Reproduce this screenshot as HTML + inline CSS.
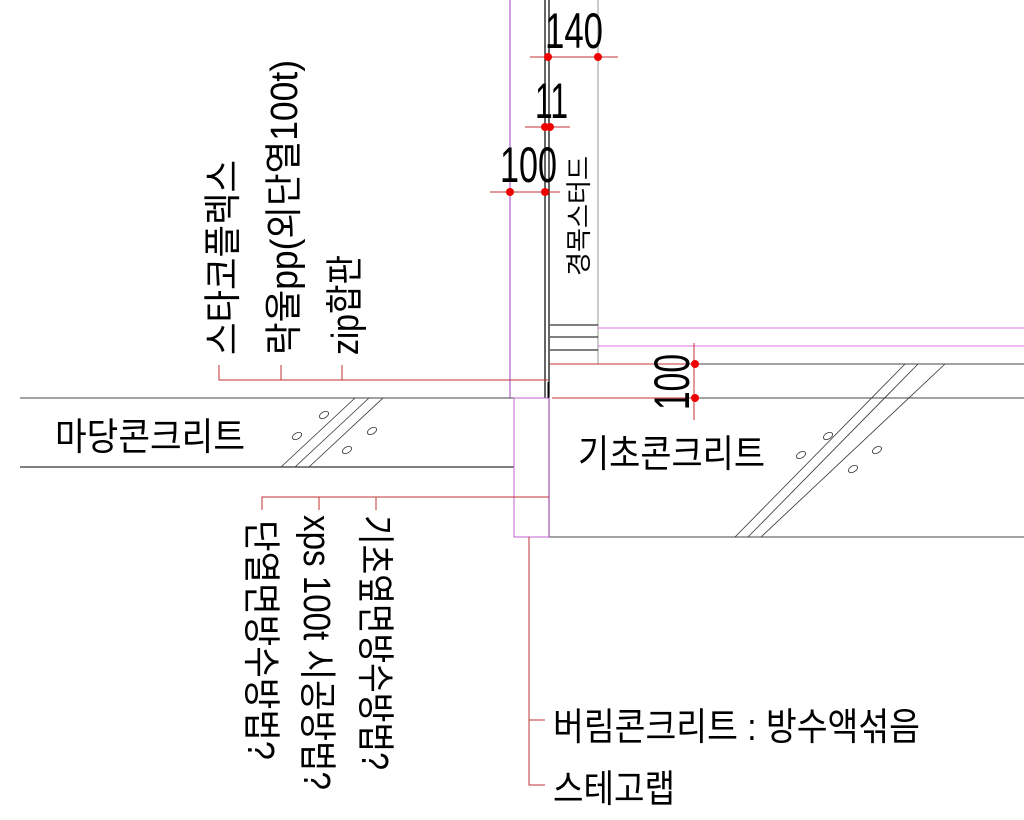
<!DOCTYPE html>
<html><head><meta charset="utf-8"><style>
html,body{margin:0;padding:0;background:#fff}
svg{display:block}
text{font-family:"Liberation Sans","Noto Sans CJK KR",sans-serif;fill:#000}
</style></head><body>
<svg width="1024" height="820" viewBox="0 0 1024 820" xmlns="http://www.w3.org/2000/svg">
<line x1="510" y1="0" x2="510" y2="398" stroke="#a040c0" stroke-width="1"/>
<line x1="545" y1="0" x2="545" y2="398" stroke="#000" stroke-width="1.2"/>
<line x1="549" y1="0" x2="549" y2="537" stroke="#000" stroke-width="1.2"/>
<line x1="598" y1="0" x2="598" y2="364" stroke="#999" stroke-width="1"/>
<line x1="550" y1="325" x2="598" y2="325" stroke="#000"/>
<line x1="550" y1="337" x2="598" y2="337" stroke="#000"/>
<line x1="550" y1="350" x2="598" y2="350" stroke="#000"/>
<line x1="598" y1="328" x2="1024" y2="328" stroke="#e070e0"/>
<line x1="598" y1="346" x2="1024" y2="346" stroke="#e070e0"/>
<line x1="550" y1="364" x2="1024" y2="364" stroke="#444"/>
<line x1="20" y1="398" x2="545" y2="398" stroke="#444"/>
<line x1="552" y1="398" x2="1024" y2="398" stroke="#444"/>
<line x1="20" y1="467" x2="514" y2="467" stroke="#000"/>
<line x1="549" y1="537" x2="1024" y2="537" stroke="#444"/>
<rect x="514" y="398" width="35" height="139" fill="none" stroke="#c060d0"/>
<line x1="548" y1="382" x2="548" y2="398" stroke="#000"/>
<g stroke="#333" stroke-width="0.8" fill="none">
<line x1="281" y1="467" x2="355" y2="398"/><line x1="295" y1="467" x2="369" y2="398"/><line x1="309" y1="467" x2="383" y2="398"/>
<line x1="735" y1="537" x2="905" y2="364"/><line x1="748" y1="537" x2="918" y2="364"/><line x1="761" y1="537" x2="945" y2="364"/>
<ellipse cx="324" cy="415" rx="5" ry="3" transform="rotate(-30 324 415)"/>
<ellipse cx="297" cy="436" rx="5" ry="3" transform="rotate(-30 297 436)"/>
<ellipse cx="372" cy="431" rx="5" ry="3" transform="rotate(-30 372 431)"/>
<ellipse cx="347" cy="450" rx="5" ry="3" transform="rotate(-30 347 450)"/>
<ellipse cx="828" cy="436" rx="5" ry="3" transform="rotate(-30 828 436)"/>
<ellipse cx="801" cy="455" rx="5" ry="3" transform="rotate(-30 801 455)"/>
<ellipse cx="877" cy="450" rx="5" ry="3" transform="rotate(-30 877 450)"/>
<ellipse cx="853" cy="469" rx="5" ry="3" transform="rotate(-30 853 469)"/>
</g>
<g stroke="#c03030" stroke-width="1" fill="none">
<polyline points="219,365 219,380 548,380"/>
<line x1="281" y1="365" x2="281" y2="380"/>
<line x1="342" y1="365" x2="342" y2="380"/>
<polyline points="262,510 262,497 549,497"/>
<line x1="319" y1="497" x2="319" y2="510"/>
<line x1="376" y1="497" x2="376" y2="510"/>
<polyline points="529,537 529,785 545,785"/>
<line x1="529" y1="720" x2="545" y2="720"/>
<line x1="530" y1="57" x2="618" y2="57"/>
<line x1="525" y1="127" x2="570" y2="127"/>
<line x1="490" y1="192" x2="560" y2="192"/>
<line x1="694" y1="343" x2="694" y2="420"/>
<line x1="550" y1="364" x2="700" y2="364"/>
<line x1="552" y1="398" x2="700" y2="398"/>
</g>
<g fill="#e00">
<circle cx="548" cy="57" r="4"/><circle cx="598" cy="57" r="4"/>
<circle cx="545" cy="127" r="4"/><circle cx="550" cy="127" r="4"/>
<circle cx="510" cy="192" r="4"/><circle cx="545" cy="192" r="4"/>
<circle cx="695" cy="364" r="4"/><circle cx="695" cy="398" r="4"/>
</g>
<g font-size="50">
<text x="545" y="48" textLength="58" lengthAdjust="spacingAndGlyphs">140</text>
<text x="535" y="118" textLength="33" lengthAdjust="spacingAndGlyphs">11</text>
<text x="500" y="182" textLength="57" lengthAdjust="spacingAndGlyphs">100</text>
<text transform="translate(689 410) rotate(-90)" textLength="56" lengthAdjust="spacingAndGlyphs">100</text>
</g>
<g font-size="38">
<text x="55" y="450" textLength="190" lengthAdjust="spacingAndGlyphs">마당콘크리트</text>
<text x="578" y="467" textLength="187" lengthAdjust="spacingAndGlyphs">기초콘크리트</text>
<text x="553" y="740" textLength="367" lengthAdjust="spacingAndGlyphs">버림콘크리트 : 방수액섞음</text>
<text x="553" y="802" textLength="122" lengthAdjust="spacingAndGlyphs">스테고랩</text>
<text transform="translate(236 355) rotate(-90)" textLength="195" lengthAdjust="spacingAndGlyphs">스타코플렉스</text>
<text transform="translate(297 355) rotate(-90)" textLength="295" lengthAdjust="spacingAndGlyphs">락울pp(외단열100t)</text>
<text transform="translate(358 355) rotate(-90)" textLength="100" lengthAdjust="spacingAndGlyphs">zip합판</text>
<text transform="translate(248 520) rotate(90)" textLength="240" lengthAdjust="spacingAndGlyphs">단열면방수방법?</text>
<text transform="translate(304 515) rotate(90)" textLength="275" lengthAdjust="spacingAndGlyphs">xps 100t 시공방법?</text>
<text transform="translate(362 515) rotate(90)" textLength="255" lengthAdjust="spacingAndGlyphs">기초옆면방수방법?</text>
</g>
<text font-size="26" transform="translate(588 276) rotate(-90)" textLength="120" lengthAdjust="spacingAndGlyphs">경목스터드</text>
</svg>
</body></html>
